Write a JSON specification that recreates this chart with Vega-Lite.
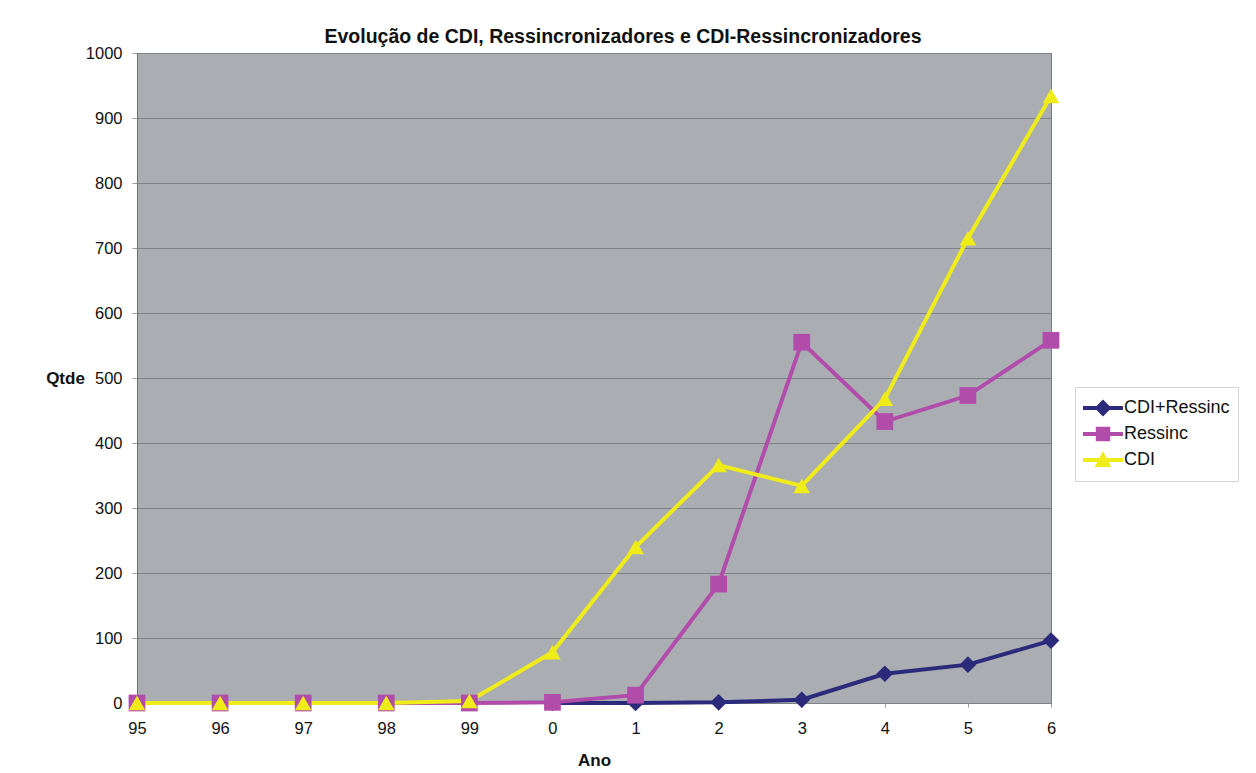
{
  "$schema": "https://vega.github.io/schema/vega-lite/v6.json",
  "width": 914,
  "height": 650,
  "autosize": {"type": "none"},
  "padding": {"left": 137, "top": 53, "right": 205, "bottom": 70},
  "background": "white",
  "config": {
    "font": "Liberation Sans",
    "view": {"fill": "#AAAEB3", "stroke": "#7A7E83", "strokeWidth": 1}
  },
  "title": {
    "text": "Evolução de CDI, Ressincronizadores e CDI-Ressincronizadores",
    "font": "Liberation Sans",
    "fontSize": 19.5,
    "fontWeight": "bold",
    "color": "#111111",
    "anchor": "middle",
    "frame": "group",
    "dx": 29,
    "dy": 26,
    "baseline": "alphabetic",
    "offset": 9
  },
  "data": {
    "values": [
      {"serie": "CDI+Ressinc", "forma": "diamante", "ano": "0", "qtde": 0},
      {"serie": "CDI+Ressinc", "forma": "diamante", "ano": "1", "qtde": 0},
      {"serie": "CDI+Ressinc", "forma": "diamante", "ano": "2", "qtde": 1},
      {"serie": "CDI+Ressinc", "forma": "diamante", "ano": "3", "qtde": 5},
      {"serie": "CDI+Ressinc", "forma": "diamante", "ano": "4", "qtde": 45},
      {"serie": "CDI+Ressinc", "forma": "diamante", "ano": "5", "qtde": 59},
      {"serie": "CDI+Ressinc", "forma": "diamante", "ano": "6", "qtde": 96},
      {"serie": "Ressinc", "forma": "quadrado", "ano": "95", "qtde": 0},
      {"serie": "Ressinc", "forma": "quadrado", "ano": "96", "qtde": 0},
      {"serie": "Ressinc", "forma": "quadrado", "ano": "97", "qtde": 0},
      {"serie": "Ressinc", "forma": "quadrado", "ano": "98", "qtde": 0},
      {"serie": "Ressinc", "forma": "quadrado", "ano": "99", "qtde": 0},
      {"serie": "Ressinc", "forma": "quadrado", "ano": "0", "qtde": 1},
      {"serie": "Ressinc", "forma": "quadrado", "ano": "1", "qtde": 12},
      {"serie": "Ressinc", "forma": "quadrado", "ano": "2", "qtde": 183},
      {"serie": "Ressinc", "forma": "quadrado", "ano": "3", "qtde": 555},
      {"serie": "Ressinc", "forma": "quadrado", "ano": "4", "qtde": 433},
      {"serie": "Ressinc", "forma": "quadrado", "ano": "5", "qtde": 473},
      {"serie": "Ressinc", "forma": "quadrado", "ano": "6", "qtde": 558},
      {"serie": "CDI", "forma": "triangulo", "ano": "95", "qtde": 0},
      {"serie": "CDI", "forma": "triangulo", "ano": "96", "qtde": 0},
      {"serie": "CDI", "forma": "triangulo", "ano": "97", "qtde": 0},
      {"serie": "CDI", "forma": "triangulo", "ano": "98", "qtde": 0},
      {"serie": "CDI", "forma": "triangulo", "ano": "99", "qtde": 3},
      {"serie": "CDI", "forma": "triangulo", "ano": "0", "qtde": 78},
      {"serie": "CDI", "forma": "triangulo", "ano": "1", "qtde": 240},
      {"serie": "CDI", "forma": "triangulo", "ano": "2", "qtde": 366},
      {"serie": "CDI", "forma": "triangulo", "ano": "3", "qtde": 334},
      {"serie": "CDI", "forma": "triangulo", "ano": "4", "qtde": 468},
      {"serie": "CDI", "forma": "triangulo", "ano": "5", "qtde": 715},
      {"serie": "CDI", "forma": "triangulo", "ano": "6", "qtde": 934}
    ]
  },
  "encoding": {
    "x": {
      "field": "ano",
      "type": "ordinal",
      "sort": ["95", "96", "97", "98", "99", "0", "1", "2", "3", "4", "5", "6"],
      "scale": {"type": "point", "padding": 0},
      "axis": {
        "title": "Ano",
        "titleFont": "Liberation Sans",
        "titleFontSize": 17,
        "titleFontWeight": "bold",
        "titleColor": "#111111",
        "titleBaseline": "middle",
        "titleY": 57,
        "labelAngle": 0,
        "labelFont": "Liberation Sans",
        "labelFontSize": 16.5,
        "labelColor": "#111111",
        "labelPadding": 13,
        "labelBaseline": "top",
        "ticks": true,
        "tickSize": 4,
        "tickColor": "#999999",
        "domain": false,
        "grid": false
      }
    },
    "y": {
      "field": "qtde",
      "type": "quantitative",
      "scale": {"domain": [0, 1000], "nice": false, "zero": true},
      "axis": {
        "title": "Qtde",
        "titleFont": "Liberation Sans",
        "titleFontSize": 17,
        "titleFontWeight": "bold",
        "titleColor": "#111111",
        "titleAngle": 0,
        "titleAlign": "center",
        "titleBaseline": "middle",
        "titleX": -72,
        "titleY": 325,
        "values": [0, 100, 200, 300, 400, 500, 600, 700, 800, 900, 1000],
        "format": "d",
        "labelFont": "Liberation Sans",
        "labelFontSize": 16.5,
        "labelColor": "#111111",
        "labelPadding": 10,
        "tickSize": 5,
        "tickColor": "#999999",
        "domain": true,
        "domainColor": "#6E7277",
        "grid": true,
        "gridColor": "#7E8287",
        "gridWidth": 1
      }
    },
    "color": {
      "field": "serie",
      "type": "nominal",
      "sort": ["CDI+Ressinc", "Ressinc", "CDI"],
      "scale": {
        "domain": ["CDI+Ressinc", "Ressinc", "CDI"],
        "range": ["#2C2A7A", "#B24CAA", "#F0EC1A"]
      },
      "legend": {
        "title": null,
        "orient": "none",
        "legendX": 938,
        "legendY": 334,
        "padding": 8,
        "strokeColor": "#D4D4D4",
        "labelFont": "Liberation Sans",
        "labelFontSize": 18,
        "labelColor": "#111111",
        "labelOffset": 1,
        "symbolSize": 1600,
        "clipHeight": 26,
        "rowPadding": 0,
        "encode": {
          "symbols": {
            "update": {
              "shape": {"signal": "datum.value === 'CDI+Ressinc' ? 'M-1,-0.1L1,-0.1L1,0.1L-1,0.1Z M0,-0.42L0.42,0L0,0.42L-0.42,0Z' : datum.value === 'Ressinc' ? 'M-1,-0.1L1,-0.1L1,0.1L-1,0.1Z M-0.36,-0.36L0.36,-0.36L0.36,0.36L-0.36,0.36Z' : 'M-1,-0.1L1,-0.1L1,0.1L-1,0.1Z M0,-0.45L0.42,0.35L-0.42,0.35Z'"},
              "fill": {"scale": "color", "field": "value"},
              "strokeWidth": {"value": 0},
              "opacity": {"value": 1}
            }
          }
        }
      }
    }
  },
  "layer": [
    {
      "mark": {"type": "line", "strokeWidth": 4}
    },
    {
      "mark": {"type": "point", "filled": true, "opacity": 1, "size": 280},
      "encoding": {
        "shape": {
          "field": "forma",
          "type": "nominal",
          "scale": {
            "domain": ["diamante", "quadrado", "triangulo"],
            "range": ["diamond", "square", "triangle-up"]
          },
          "legend": null
        }
      }
    }
  ]
}
